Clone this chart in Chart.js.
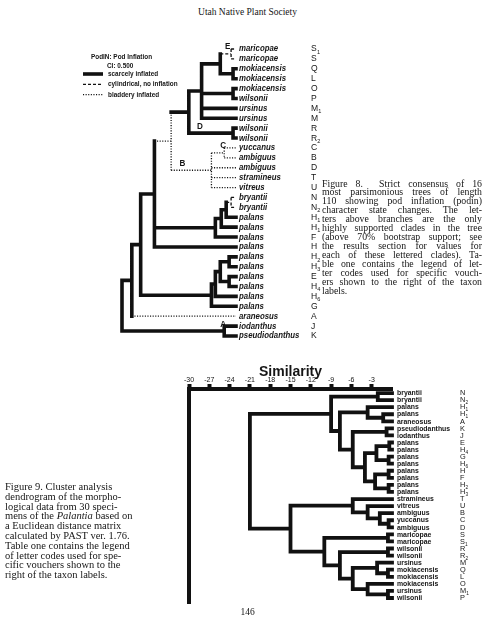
<!DOCTYPE html>
<html><head><meta charset="utf-8">
<script src="https://cdn.jsdelivr.net/npm/chart.js@4.4.0/dist/chart.umd.min.js"></script>
<style>
html,body{margin:0;padding:0;background:#fff;}
body{width:495px;height:640px;position:relative;overflow:hidden;font-family:'Liberation Serif','Times New Roman',serif;color:#151515;}
.box{position:absolute;}
.txt{position:absolute;font-size:10px;line-height:10px;white-space:nowrap;}
.just div{text-align:justify;text-align-last:justify;white-space:normal;}
.just div:last-child{text-align-last:left;}
</style></head><body>
<div class="txt" style="left:0;width:495px;top:7px;text-align:center;font-size:9.5px;">Utah Native Plant Society</div>
<div class="box" style="left:60px;top:35px;"><canvas id="c1" width="280" height="320"></canvas></div>
<div class="box" style="left:120px;top:355px;"><canvas id="c2" width="375" height="260"></canvas></div>
<div class="txt just" style="left:322px;top:179.5px;width:160px;font-size:9.8px;line-height:8.95px;"><div>Figure 8.&nbsp; Strict consensus of 16</div><div>most parsimonious trees of length</div><div>110 showing pod inflation (podin)</div><div>character state changes. The let-</div><div>ters above branches are the only</div><div>highly supported clades in the tree</div><div>(above 70% bootstrap support; see</div><div>the results section for values for</div><div>each of these lettered clades). Ta-</div><div>ble one contains the legend of let-</div><div>ter codes used for specific vouch-</div><div>ers shown to the right of the taxon</div><div>labels.</div></div>
<div class="txt" style="left:5px;top:482px;font-size:10.5px;line-height:9.8px;">Figure 9. Cluster analysis<br>dendrogram of the morpho-<br>logical data from 30 speci-<br>mens of the <i>Palantia</i> based on<br>a Euclidean distance matrix<br>calculated by PAST ver. 1.76.<br>Table one contains the legend<br>of letter codes used for spe-<br>cific vouchers shown to the<br>right of the taxon labels.</div>
<div class="txt" style="left:0;width:495px;top:607px;text-align:center;font-size:9.5px;">146</div>
<script>
// ---------- Figure 8 : strict consensus (pod inflation) ----------
const fig8Taxa = ['maricopae','maricopae','mokiacensis','mokiacensis','mokiacensis','wilsonii','ursinus','ursinus','wilsonii','wilsonii','yuccanus','ambiguus','ambiguus','stramineus','vitreus','bryantii','bryantii','palans','palans','palans','palans','palans','palans','palans','palans','palans','palans','araneosus','iodanthus','pseudiodanthus'];
const fig8Codes = ['S1','S','Q','L','O','P','M1','M','R','R2','C','B','D','T','U','N','N2','H1','H1','F','H','H2','H3','E','H4','H6','G','A','J','K'];
// s = scarcely inflated, c = cylindrical no inflation, b = bladdery inflated
const fig8LeafState = ['c','c','s','s','s','s','s','s','s','s','b','b','b','b','b','c','c','s','s','s','s','s','s','s','s','s','s','b','s','s'];
const fig8NodeKids = [[0,1],[2,3],['n0','n1'],[4,5],['n2','n3',6,7],[8,9],['n4','n5'],[10,11],['n7',12,13,14],['n6','n8'],[15,16],['n10',17],['n11',18],['n12',19],['n9','n13',20],[21,22],[23,24],['n15','n16'],['n17',25],['n18',26],['n14','n19'],['n20',27],[28,29],['n21','n22']];
const fig8NodeDepth = [111,113,100,113,81,113,68,104,91,50,111,106,101,95,33,109,109,100,95,91,19,10,104,0];
const fig8NodeState = ['c','s','s','s','s','s','s','b','b','b','c','s','s','s','s','s','s','s','s','s','s','s','s','s'];
const fig8CladeLetters = {0:'E',5:'D',7:'C',8:'B',22:'A'};
const fig8LeafDepth = 116;
const fig8LegendStates = ['s','c','b'];
const fig8LegendText = ['scarcely inflated','cylindrical, no inflation','bladdery inflated'];

// ---------- Figure 9 : cluster dendrogram (similarity) ----------
const fig9Taxa = ['bryantii','bryantii','palans','palans','araneosus','pseudiodanthus','iodanthus','palans','palans','palans','palans','palans','palans','palans','palans','stramineus','vitreus','ambiguus','yuccanus','ambiguus','maricopae','maricopae','wilsonii','wilsonii','ursinus','mokiacensis','mokiacensis','mokiacensis','ursinus','wilsonii'];
const fig9Codes = ['N','N2','H1','H1','A','K','J','E','H4','G','H6','H','F','H2','H3','T','U','B','C','D','S','S1','R','R2','M','Q','L','O','M1','P'];
const fig9NodeKids = [[0,1],[3,4],[2,'n1'],[5,6],[7,8],[9,10],['n4','n5'],[11,12],[13,14],['n7','n8'],['n6','n9'],['n3','n10'],['n2','n11'],['n0','n12'],[18,19],[17,'n14'],[16,'n15'],[15,'n16'],[20,21],[22,23],[25,26],[24,'n20'],[28,29],[27,'n22'],['n21','n23'],['n19','n24'],['n18','n25'],['n17','n26'],['n13','n27']];
const fig9NodeSim = [-2.1,-1.3,-3.6,-0.8,-0.4,-0.5,-2.3,-0.5,-0.5,-2.5,-4.0,-5.8,-7.7,-9.0,-0.5,-1.8,-3.6,-5.8,-0.6,-0.6,-0.6,-2.2,-0.6,-3.6,-5.8,-7.7,-10.0,-15.0,-21.0];
const fig9LeafSim = 0;
const fig9TickValues = [-30,-27,-24,-21,-18,-15,-12,-9,-6,-3];

// ---------- helpers ----------
function buildTree(kids, depth, leafDepth) {
  const nodes = [];
  const get = r => typeof r === 'number' ? {leaf:true, idx:r, x:leafDepth, y:r} : nodes[+r.slice(1)];
  kids.forEach((k, j) => {
    const ch = k.map(get);
    const ys = ch.map(c => c.y);
    nodes[j] = {leaf:false, idx:j, x:depth[j], y:(ys[0] + ys[ys.length-1]) / 2, ymin:Math.min(...ys), ymax:Math.max(...ys), ch};
  });
  return nodes;
}
function treeSegments(nodes, styleOf) {
  const out = {};
  const add = (st, a, b) => { (out[st] = out[st] || []).push(a, b, {x:null, y:null}); };
  nodes.forEach(n => {
    add(styleOf(n), {x:n.x, y:n.ymin}, {x:n.x, y:n.ymax});
    n.ch.forEach(c => add(styleOf(c), {x:n.x, y:c.y}, {x:c.x, y:c.y}));
  });
  return out;
}
const SANS = '"Liberation Sans", Arial, Helvetica, sans-serif';
function condensed(ctx, text, x, y, font, sx) {
  ctx.save(); ctx.font = font; ctx.translate(x, y); ctx.scale(sx, 1); ctx.fillText(text, 0, 0);
  const w = ctx.measureText(text).width * sx; ctx.restore(); return w;
}
function drawCode(ctx, code, x, y, size, sx) {
  const w = condensed(ctx, code[0], x, y, `${size}px ${SANS}`, sx);
  if (code.length > 1) condensed(ctx, code.slice(1), x + w + 0.2, y + size * 0.35, `${(size * 0.65).toFixed(2)}px ${SANS}`, sx);
}
const lineStyles = {
  s: {borderWidth:3.6, borderDash:[], borderCapStyle:'square'},
  c: {borderWidth:1.3, borderDash:[3,2], borderCapStyle:'butt'},
  b: {borderWidth:1.3, borderDash:[1.1,1.5], borderCapStyle:'butt'}
};

// ---------- Figure 8 chart ----------
const fig8Nodes = buildTree(fig8NodeKids, fig8NodeDepth, fig8LeafDepth);
const fig8Segs = treeSegments(fig8Nodes, n => n.leaf ? fig8LeafState[n.idx] : fig8NodeState[n.idx]);
const fig8Datasets = Object.keys(fig8Segs).map(st => Object.assign({
  data: fig8Segs[st], showLine:true, pointRadius:0, borderColor:'#111', spanGaps:false,
  borderJoinStyle:'miter', clip:false, tension:0
}, lineStyles[st]));

const fig8Text = {
  id:'fig8Text',
  afterDatasetsDraw(chart) {
    const {ctx, scales:{x:xs, y:ys}} = chart;
    ctx.save(); ctx.fillStyle = '#151515'; ctx.textBaseline = 'middle'; ctx.textAlign = 'left';
    const tip = xs.getPixelForValue(fig8LeafDepth);
    fig8Taxa.forEach((name, i) => {
      const y = ys.getPixelForValue(i);
      const w = condensed(ctx, name, tip + 3, y, `italic bold 9px ${SANS}`, 0.87);
      drawCode(ctx, fig8Codes[i], Math.max(tip + 75, tip + 3 + w + 5), y, 9, 0.95);
    });
    const dx = {E:-6, D:-36, C:-4, B:-32, A:-4};
    fig8Nodes.forEach(n => {
      const L = fig8CladeLetters[n.idx]; if (!L) return;
      condensed(ctx, L, xs.getPixelForValue(n.x) + dx[L], ys.getPixelForValue(n.y) - 7, `bold 9px ${SANS}`, 0.9);
    });
    // legend
    condensed(ctx, 'PodIN: Pod Inflation', 31, 22, `bold 7.8px ${SANS}`, 0.82);
    condensed(ctx, 'CI: 0.500', 47, 31, `bold 7.8px ${SANS}`, 0.82);
    fig8LegendStates.forEach((st, k) => {
      const y = 39 + k * 10.3;
      const s = lineStyles[st];
      ctx.save(); ctx.strokeStyle = '#111'; ctx.lineWidth = s.borderWidth; ctx.setLineDash(s.borderDash); ctx.lineCap = 'butt';
      ctx.beginPath(); ctx.moveTo(23, y); ctx.lineTo(43, y); ctx.stroke(); ctx.restore();
      condensed(ctx, fig8LegendText[k], 48, y, `bold 7.8px ${SANS}`, 0.82);
    });
    ctx.restore();
  }
};

new Chart(document.getElementById('c1'), {
  type:'scatter',
  data:{datasets:fig8Datasets},
  options:{
    responsive:false, animation:false, events:[],
    layout:{padding:{left:62, right:104, top:14, bottom:19}},
    plugins:{legend:{display:false}, tooltip:{enabled:false}, title:{display:false}},
    scales:{
      x:{type:'linear', display:false, min:0, max:fig8LeafDepth},
      y:{type:'linear', display:false, reverse:true, min:0, max:fig8Taxa.length - 1}
    }
  },
  plugins:[fig8Text]
});

// ---------- Figure 9 chart ----------
const fig9Nodes = buildTree(fig9NodeKids, fig9NodeSim, fig9LeafSim);
const fig9Segs = treeSegments(fig9Nodes, () => 's');
const fig9Text = {
  id:'fig9Text',
  afterDatasetsDraw(chart) {
    const {ctx, scales:{x:xs, y:ys}} = chart;
    ctx.save(); ctx.fillStyle = '#151515'; ctx.textBaseline = 'middle'; ctx.textAlign = 'left';
    const tip = xs.getPixelForValue(fig9LeafSim);
    fig9Taxa.forEach((name, i) => {
      const y = ys.getPixelForValue(i);
      const w = condensed(ctx, name, tip + 5, y, `bold 8px ${SANS}`, 0.86);
      drawCode(ctx, fig9Codes[i], Math.max(tip + 68, tip + 5 + w + 5), y, 8, 0.92);
    });
    ctx.restore();
  }
};
new Chart(document.getElementById('c2'), {
  type:'scatter',
  data:{datasets:[{data:fig9Segs.s, showLine:true, pointRadius:0, borderColor:'#111', borderWidth:3.8,
    borderCapStyle:'square', borderJoinStyle:'miter', spanGaps:false, clip:false, tension:0}]},
  options:{
    responsive:false, animation:false, events:[],
    layout:{padding:{left:69, right:103, top:8.8, bottom:12}},
    plugins:{legend:{display:false}, tooltip:{enabled:false},
      title:{display:true, text:'Similarity', color:'#151515', font:{family:SANS, size:14, weight:'bold'}, padding:{top:0, bottom:-5}}},
    scales:{
      x:{type:'linear', position:'top', min:-30, max:0,
        afterBuildTicks:s => { s.ticks = fig9TickValues.map(v => ({value:v})); },
        ticks:{color:'#151515', font:{family:SANS, size:7}, padding:0, maxRotation:0, autoSkip:false, callback:v => String(v)},
        grid:{display:true, drawOnChartArea:false, drawTicks:true, tickLength:5, tickWidth:4, tickColor:'#111'},
        border:{display:true, color:'#111', width:4}},
      y:{type:'linear', reverse:true, min:-0.57, max:29.71,
        ticks:{display:false}, grid:{display:false, drawTicks:false, tickLength:0},
        border:{display:true, color:'#111', width:4}}
    }
  },
  plugins:[fig9Text]
});
</script>
</body></html>
